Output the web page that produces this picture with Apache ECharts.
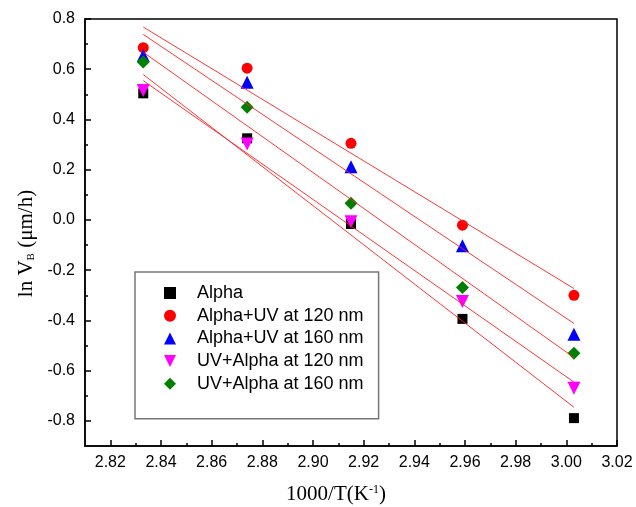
<!DOCTYPE html>
<html>
<head>
<meta charset="utf-8">
<script src="https://cdn.jsdelivr.net/npm/echarts@6/dist/echarts.min.js"></script>
<style>
  html, body { margin: 0; padding: 0; background: #fff; }
  #main { width: 636px; height: 507px; }
</style>
</head>
<body>
<div id="main"></div>
<script>
// 1000/T (K^-1) for 80, 75, 70, 65, 60 C
const invT = [2.833, 2.874, 2.915, 2.959, 3.003];

const alpha = [0.504, 0.325, -0.016, -0.394, -0.789];
const alphaUV120 = [0.686, 0.604, 0.305, -0.021, -0.300];
const alphaUV160 = [0.655, 0.548, 0.212, -0.103, -0.455];
const uvAlpha120 = [0.515, 0.302, -0.007, -0.325, -0.670];
const uvAlpha160 = [0.629, 0.449, 0.066, -0.269, -0.531];

const seriesNames = ['Alpha', 'Alpha+UV at 120 nm', 'Alpha+UV at 160 nm', 'UV+Alpha at 120 nm', 'UV+Alpha at 160 nm'];

const xTickLabels = ['2.82', '2.84', '2.86', '2.88', '2.90', '2.92', '2.94', '2.96', '2.98', '3.00', '3.02'];
const xMinorTicks = [2.83, 2.85, 2.87, 2.89, 2.91, 2.93, 2.95, 2.97, 2.99, 3.01];
const yTickLabels = ['-0.8', '-0.6', '-0.4', '-0.2', '0.0', '0.2', '0.4', '0.6', '0.8'];
const yMinorTicks = [-0.7, -0.5, -0.3, -0.1, 0.1, 0.3, 0.5, 0.7];

const sans = 'Liberation Sans, Arial, sans-serif';
const serif = 'Liberation Serif, Times New Roman, serif';

// least squares line through the points, drawn over the data x range
function fitLine(xs, ys) {
	const n = xs.length;
	const mx = xs.reduce((a, b) => a + b, 0) / n;
	const my = ys.reduce((a, b) => a + b, 0) / n;
	let sxy = 0, sxx = 0;
	for (let i = 0; i < n; i++) {
		sxy += (xs[i] - mx) * (ys[i] - my);
		sxx += (xs[i] - mx) * (xs[i] - mx);
	}
	const k = sxy / sxx;
	const x0 = xs[0], x1 = xs[n - 1];
	return [[x0, my + k * (x0 - mx)], [x1, my + k * (x1 - mx)]];
}

const allData = [alpha, alphaUV120, alphaUV160, uvAlpha120, uvAlpha160];
const markers = [
	{ symbol: 'rect', size: 10, rotate: 0, color: '#000000', icon: 'rect' },
	{ symbol: 'circle', size: 11, rotate: 0, color: '#ff0000', icon: 'circle' },
	{ symbol: 'triangle', size: 13, rotate: 0, color: '#0000ff', icon: 'triangle' },
	{ symbol: 'triangle', size: 13, rotate: 180, color: '#ff00ff', icon: 'path://M0,0L10,0L5,10Z' },
	{ symbol: 'diamond', size: 13, rotate: 0, color: '#008000', icon: 'diamond' }
];

const series = [];
allData.forEach(function (ys, i) {
	series.push({
		name: seriesNames[i],
		type: 'scatter',
		symbol: markers[i].symbol,
		symbolSize: markers[i].size,
		symbolRotate: markers[i].rotate,
		itemStyle: { color: markers[i].color, opacity: 1 },
		data: invT.map((x, j) => [x, ys[j]]),
		z: 3
	});
});
allData.forEach(function (ys, i) {
	series.push({
		name: 'fit' + i,
		type: 'line',
		data: fitLine(invT, ys),
		showSymbol: false,
		silent: true,
		lineStyle: { color: '#ff2020', width: 1, opacity: 0.9 },
		z: 4
	});
});

const chart = echarts.init(document.getElementById('main'), null, { renderer: 'canvas' });

const option = {
	animation: false,
	grid: {
		left: 85, right: 19, top: 19, bottom: 61,
		containLabel: false,
		outerBoundsMode: 'none',
		show: true,
		borderColor: '#000',
		borderWidth: 1.5,
		backgroundColor: 'transparent'
	},
	legend: {
		data: seriesNames.map((name, i) => ({ name: name, icon: markers[i].icon })),
		orient: 'vertical',
		left: 135,
		top: 272,
		padding: [12, 15, 26, 29],
		itemWidth: 12,
		itemHeight: 12,
		itemGap: 4.7,
		borderColor: '#777',
		borderWidth: 1.5,
		textStyle: { fontFamily: sans, fontSize: 18, color: '#000', padding: [0, 0, 0, 16] }
	},
	xAxis: [{
		type: 'value',
		min: 2.81,
		max: 3.02,
		name: '{a|1000/T(K}{s|-1}{a|)}',
		nameLocation: 'middle',
		nameGap: 38,
		nameTextStyle: {
			padding: [0, 30, 0, 0],
			rich: {
				a: { fontFamily: serif, fontSize: 21, color: '#000', lineHeight: 21, verticalAlign: 'bottom' },
				s: { fontFamily: serif, fontSize: 12, color: '#000', lineHeight: 12, verticalAlign: 'top', padding: [0, 0, 13, 0] }
			}
		},
		axisLine: { onZero: false, lineStyle: { color: '#000', width: 1.5 } },
		axisTick: { inside: true, length: 6, customValues: xTickLabels.map(Number), lineStyle: { color: '#000', width: 1.5 } },
		axisLabel: {
			customValues: xTickLabels.map(Number),
			formatter: v => v.toFixed(2),
			fontFamily: sans, fontSize: 16, color: '#000', margin: 9
		},
		splitLine: { show: false }
	}, {
		type: 'value',
		min: 2.81,
		max: 3.02,
		position: 'bottom',
		offset: 0,
		axisLine: { show: false, onZero: false },
		axisTick: { inside: true, length: 3, customValues: xMinorTicks, lineStyle: { color: '#000', width: 1.5 } },
		axisLabel: { show: false },
		splitLine: { show: false }
	}],
	yAxis: [{
		type: 'value',
		min: -0.9,
		max: 0.8,
		name: '{a|ln V}{b|B}{a| (μm/h)}',
		nameLocation: 'middle',
		nameGap: 48,
		nameTextStyle: {
			padding: [0, 22, 0, 0],
			rich: {
				a: { fontFamily: serif, fontSize: 21, color: '#000', lineHeight: 21, verticalAlign: 'top' },
				b: { fontFamily: serif, fontSize: 11, color: '#000', lineHeight: 11, verticalAlign: 'bottom', padding: [14, 0, 0, 0] }
			}
		},
		axisLine: { onZero: false, lineStyle: { color: '#000', width: 1.5 } },
		axisTick: { inside: true, length: 6, customValues: yTickLabels.map(Number), lineStyle: { color: '#000', width: 1.5 } },
		axisLabel: {
			customValues: yTickLabels.map(Number),
			formatter: v => v.toFixed(1),
			fontFamily: sans, fontSize: 16, color: '#000', margin: 10
		},
		splitLine: { show: false }
	}, {
		type: 'value',
		min: -0.9,
		max: 0.8,
		position: 'left',
		offset: 0,
		axisLine: { show: false, onZero: false },
		axisTick: { inside: true, length: 3, customValues: yMinorTicks, lineStyle: { color: '#000', width: 1.5 } },
		axisLabel: { show: false },
		splitLine: { show: false }
	}],
	series: series
};

chart.setOption(option);
</script>
</body>
</html>
